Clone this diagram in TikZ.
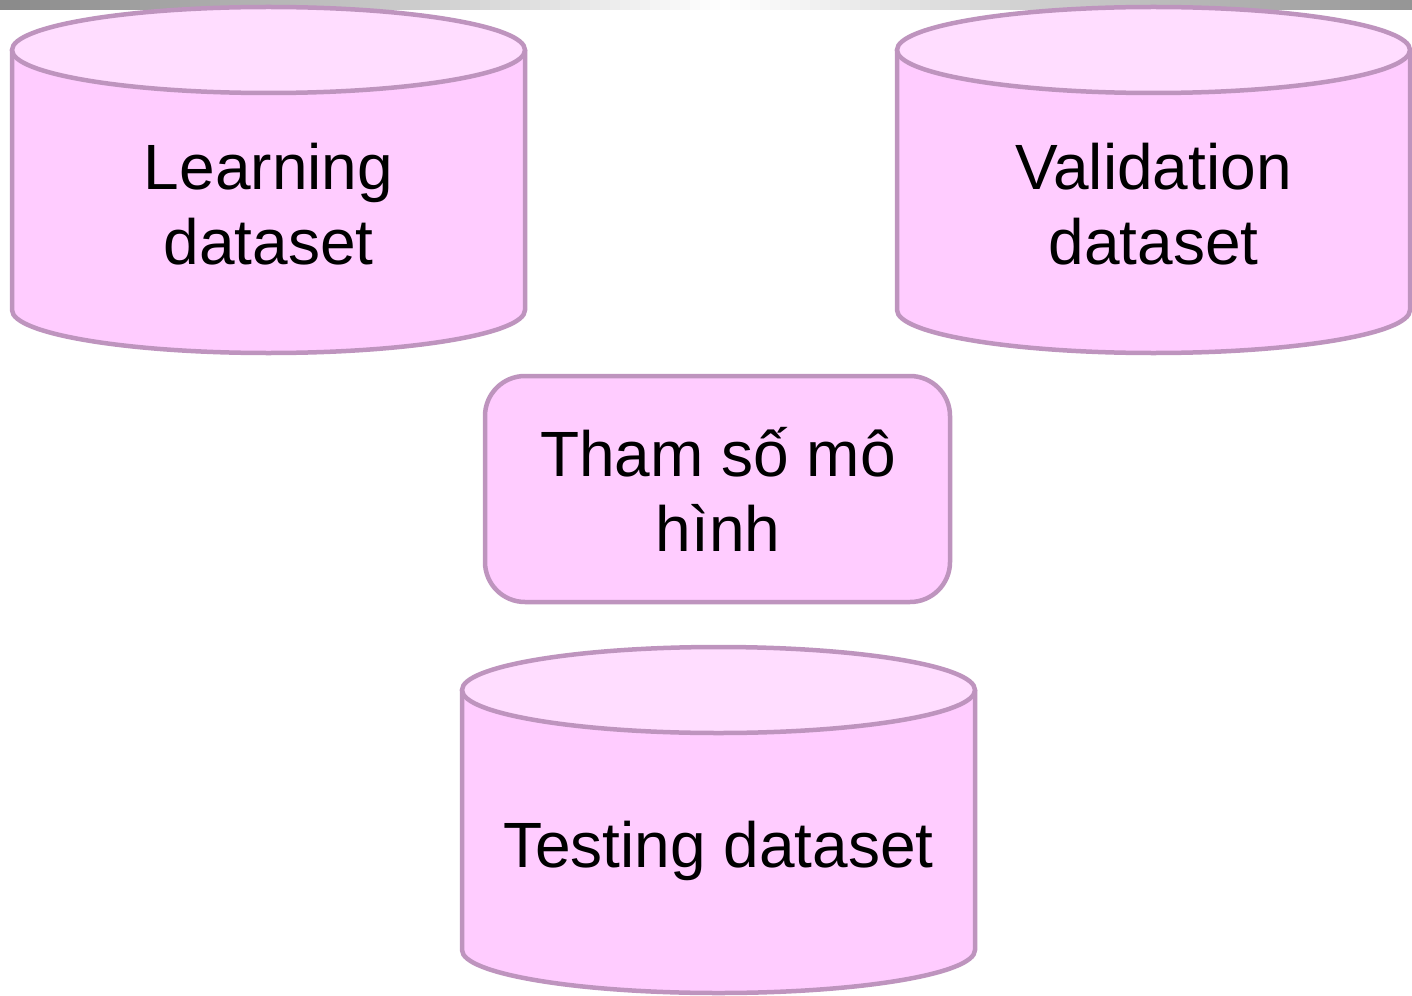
\documentclass[tikz,border=0pt]{standalone}
\usepackage{fontspec}
\setmainfont{Liberation Sans}
\definecolor{cylbody}{HTML}{FFCCFF}
\definecolor{cyltop}{HTML}{FFDDFF}
\definecolor{cylline}{HTML}{BE94BE}
\newcommand{\dbcylinder}[4]{% left x, right x, top cy, bottom cy
  \pgfmathsetmacro{\rxx}{(#2-#1)/2}
  \path[cylshape] (#1,#3) -- (#1,#4) arc[start angle=180,end angle=360,x radius=\rxx pt,y radius=43pt] -- (#2,#3);
  \path[cylshape,fill=cyltop] ({(#1+#2)/2},#3) ellipse[x radius=\rxx pt,y radius=43pt];
}
\begin{document}
\begin{tikzpicture}[x=1pt,y=-1pt,
  cylshape/.style={draw=cylline,fill=cylbody,line width=4.5pt},
  lbl/.style={align=center,font=\fontsize{64}{75}\selectfont,inner sep=0pt},
  parambox/.style={draw=cylline,fill=cylbody,line width=4.5pt,rounded corners=40pt,minimum width=465pt,minimum height=226pt}]
\useasboundingbox (0,0) rectangle (1412,995);
\foreach \i in {0,...,141}{
  \pgfmathsetmacro{\xx}{\i*10}
  \pgfmathsetmacro{\gv}{\xx<720 ? 54+46*(\xx/720) : 100-42*((\xx-720)/692)}
  \pgfmathsetmacro{\gw}{min(100,max(0,\gv))}
  \fill[fill=white!\gw!black] (\xx,0) rectangle (\xx+10.5,10);
}
\dbcylinder{12}{525}{50}{310}
\dbcylinder{897}{1410}{50}{310}
\dbcylinder{462}{975}{690}{950}
\node[parambox] (param) at (717.5,489) {};
\node[lbl] (learn) at (268.5,204) {Learning\\dataset};
\node[lbl] (valid) at (1153.5,204) {Validation\\dataset};
\node[lbl] (ptext) at (718,489) {Tham số mô\\hình};
\node[lbl,anchor=base] (test) at (718.5,867) {Testing dataset};
\end{tikzpicture}
\end{document}
